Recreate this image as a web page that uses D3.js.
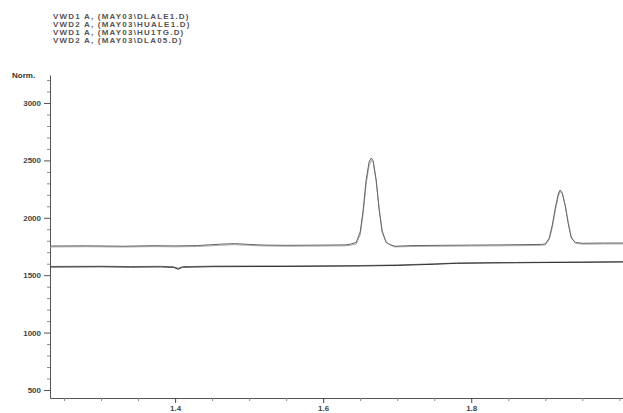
<!DOCTYPE html>
<html>
<head>
<meta charset="utf-8">
<script src="https://cdn.jsdelivr.net/npm/d3@7"></script>
<style>
  body { margin: 0; background: #fff; }
  text { font-family: "Liberation Sans", Arial, sans-serif; }
</style>
</head>
<body>
<svg id="chart" width="623" height="413"></svg>
<script>
const legendLabels = [
    "VWD1 A, (MAY03\\DLALE1.D)",
    "VWD2 A, (MAY03\\HUALE1.D)",
    "VWD1 A, (MAY03\\HU1TG.D)",
    "VWD2 A, (MAY03\\DLA05.D)"
];

const yTicks = [500, 1000, 1500, 2000, 2500, 3000];
const xTicks = [1.4, 1.6, 1.8];

// upper pair of traces
const upperTime = [1.231, 1.28, 1.33, 1.37, 1.40, 1.43, 1.46, 1.48, 1.50, 1.52, 1.55, 1.60, 1.63,
    1.6365, 1.6446, 1.650, 1.654, 1.658, 1.662, 1.665, 1.6676, 1.6716, 1.6757, 1.6797, 1.6851,
    1.6905, 1.697, 1.72, 1.76, 1.80, 1.84, 1.87, 1.895, 1.900, 1.9054, 1.9095, 1.9135, 1.9176,
    1.920, 1.923, 1.927, 1.9311, 1.9351, 1.9405, 1.95, 1.98, 2.005];
const upperA = [1754, 1756, 1752, 1757, 1755, 1758, 1770, 1775, 1768, 1762, 1760, 1762, 1764,
    1770, 1785, 1876, 2068, 2329, 2486, 2521, 2495, 2329, 2068, 1876, 1785,
    1766, 1752, 1758, 1760, 1762, 1764, 1766, 1768, 1772, 1824, 1937, 2085, 2207,
    2242, 2216, 2103, 1946, 1824, 1785, 1778, 1780, 1780];
const upperB = [1746, 1748, 1745, 1749, 1747, 1750, 1760, 1766, 1760, 1755, 1752, 1754, 1756,
    1760, 1772, 1850, 2030, 2290, 2455, 2500, 2480, 2320, 2075, 1890, 1790,
    1762, 1746, 1750, 1752, 1754, 1756, 1758, 1760, 1764, 1810, 1915, 2060, 2185,
    2228, 2210, 2110, 1960, 1835, 1780, 1770, 1772, 1772];

// lower pair of traces
const lowerTime = [1.231, 1.30, 1.34, 1.38, 1.398, 1.404, 1.41, 1.45, 1.50, 1.55, 1.60, 1.65,
    1.70, 1.75, 1.78, 1.82, 1.86, 1.90, 1.95, 2.005];
const lowerA = [1571, 1573, 1570, 1572, 1568, 1552, 1569, 1574, 1575, 1576, 1578, 1580,
    1585, 1595, 1603, 1606, 1608, 1610, 1612, 1615];
const lowerB = [1576, 1578, 1575, 1577, 1573, 1560, 1574, 1579, 1580, 1580, 1582, 1584,
    1589, 1599, 1606, 1609, 1611, 1613, 1615, 1618];

const svg = d3.select("#chart");
const x = d3.scaleLinear().domain([1.231, 2.005]).range([50, 623]);
const y = d3.scaleLinear().domain([430, 3244]).range([398, 75]);

// axes
const yMinor = d3.range(500, 3201, 100).filter(v => !yTicks.includes(v));
const xMinor = d3.range(1.25, 2.001, 0.05).filter(v => !xTicks.some(t => Math.abs(t - v) < 1e-6));

const yAxis = svg.append("g")
    .attr("transform", "translate(50,0)")
    .call(d3.axisLeft(y).tickValues(yTicks).tickFormat(d3.format("d"))
        .tickSize(6).tickSizeOuter(0).tickPadding(3));
yAxis.select(".domain").attr("stroke", "#555");
yAxis.selectAll(".tick line").attr("stroke", "#555");
yAxis.selectAll("text").attr("font-size", 8).attr("font-weight", "bold").attr("fill", "#444");

svg.append("g")
    .attr("transform", "translate(50,0)")
    .call(d3.axisLeft(y).tickValues(yMinor).tickSize(3).tickFormat(""))
    .call(g => g.select(".domain").remove())
    .selectAll(".tick line").attr("stroke", "#888");

const xAxis = svg.append("g")
    .attr("transform", "translate(0,398)")
    .call(d3.axisBottom(x).tickValues(xTicks).tickSize(5).tickSizeOuter(0).tickPadding(2));
xAxis.select(".domain").attr("stroke", "#555");
xAxis.selectAll(".tick line").attr("stroke", "#444");
xAxis.selectAll("text").attr("font-size", 8).attr("font-weight", "bold").attr("fill", "#444");

svg.append("g")
    .attr("transform", "translate(0,398)")
    .call(d3.axisBottom(x).tickValues(xMinor).tickSize(3).tickFormat(""))
    .call(g => g.select(".domain").remove())
    .selectAll(".tick line").attr("stroke", "#888");

svg.append("text")
    .attr("x", 12)
    .attr("y", 78)
    .attr("font-size", 8)
    .attr("font-weight", "bold")
    .attr("fill", "#333")
    .text("Norm.");

// traces
const line = d3.line().x(d => x(d[0])).y(d => y(d[1]));
const traces = [
    {time: lowerTime, values: lowerB, color: "#777"},
    {time: lowerTime, values: lowerA, color: "#333"},
    {time: upperTime, values: upperB, color: "#aaa"},
    {time: upperTime, values: upperA, color: "#666"}
];
svg.append("g")
    .selectAll("path")
    .data(traces)
    .join("path")
    .attr("fill", "none")
    .attr("stroke", d => d.color)
    .attr("stroke-width", 1)
    .attr("d", d => line(d.time.map((t, i) => [t, d.values[i]])));

// legend
svg.append("g")
    .attr("font-size", 8)
    .attr("font-weight", "bold")
    .attr("letter-spacing", 1.2)
    .attr("fill", "#555")
    .selectAll("text")
    .data(legendLabels)
    .join("text")
    .attr("x", 53)
    .attr("y", (d, i) => 19 + i * 8)
    .text(d => d);
</script>
</body>
</html>
